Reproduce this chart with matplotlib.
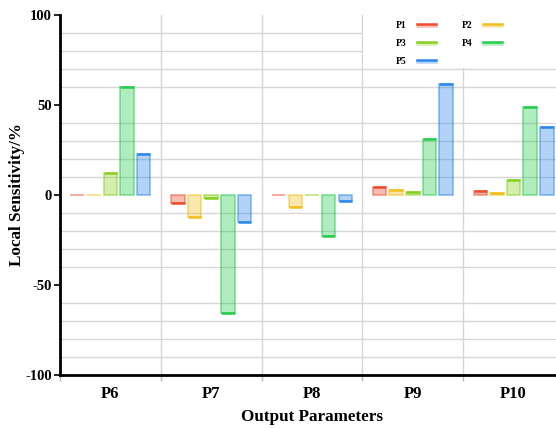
import matplotlib
matplotlib.use("Agg")
import matplotlib.pyplot as plt
from matplotlib.patches import Rectangle
from matplotlib.lines import Line2D
from matplotlib.colors import to_rgba
import numpy as np

categories = ["P6", "P7", "P8", "P9", "P10"]
series_names = ["P1", "P2", "P3", "P4", "P5"]
P1 = [0.0, -4.5, -0.2, 4.2, 2.0]
P2 = [0.0, -12.0, -6.5, 2.8, 1.2]
P3 = [12.5, -1.8, -0.2, 1.5, 8.5]
P4 = [60.0, -65.5, -23.0, 31.0, 48.7]
P5 = [23.0, -15.0, -3.5, 61.5, 37.7]
series = [P1, P2, P3, P4, P5]
colors = ["#ee4a2c", "#f2bd1d", "#86d01c", "#26cc4c", "#2b87e6"]
yticks = [-100, -50, 0, 50, 100]

W, H = 556, 428
fig = plt.figure(figsize=(W / 100, H / 100), dpi=100)
ax = fig.add_axes([60 / W, 1 - 375 / H, (564 - 60) / W, 360 / H])

serif = "Liberation Serif"
n = len(categories)
x = np.arange(n) + 0.5
step = 0.165
bw = 0.134
for i, (vals, c) in enumerate(zip(series, colors)):
    xs = x + (i - 2) * step
    ax.bar(xs, vals, width=bw, facecolor=to_rgba(c, 0.36), edgecolor=to_rgba(c, 0.55),
           linewidth=1.2, zorder=3)
    for xi, v in zip(xs, vals):
        if abs(v) > 0.5:
            ax.plot([xi - bw / 2, xi + bw / 2], [v, v], color=c, lw=1.8, zorder=4,
                    solid_capstyle="butt")

ax.set_xlim(0, n)
ax.set_ylim(-100, 100)
ax.set_yticks(yticks)
ax.set_yticks(np.arange(-100, 101, 10), minor=True)
ax.set_xticks(np.arange(0, n + 1), minor=True)
ax.set_xticks(x)
ax.set_xticklabels(categories, fontfamily=serif, fontweight="bold", fontsize=12)
ax.set_yticklabels([str(t) for t in yticks], fontfamily=serif, fontweight="bold", fontsize=10.5)
ax.tick_params(axis="x", which="major", length=0, pad=8)
ax.tick_params(axis="x", which="minor", length=4, width=1, color="#bbbbbb", direction="out")
ax.tick_params(axis="y", which="major", length=4, width=1.2, pad=2)
ax.tick_params(axis="y", which="minor", length=0)
ax.grid(True, axis="y", which="minor", color="#d6d6d6", lw=1.0, zorder=0)
ax.grid(True, axis="x", which="minor", color="#d6d6d6", lw=1.0, zorder=0)
for s in ["top", "right"]:
    ax.spines[s].set_visible(False)
for s in ["left", "bottom"]:
    ax.spines[s].set_linewidth(2)
    ax.spines[s].set_color("black")
    ax.spines[s].set_zorder(6)

ax.set_xlabel("Output Parameters", fontfamily=serif, fontweight="bold", fontsize=12.3, labelpad=5)
ax.set_ylabel("Local Sensitivity/%", fontfamily=serif, fontweight="bold", fontsize=12.3)
ax.yaxis.set_label_coords((25 - 60) / 504, 0.5)

# legend area
ax.add_patch(Rectangle((3.01, 70.6), 2.0, 29.0, facecolor="white", edgecolor="none", zorder=5))
pos = [(401, 25), (467, 25), (401, 43.5), (467, 43.5), (401, 61)]
for name, c, (px, py) in zip(series_names, colors, pos):
    fig.text(px / W, 1 - py / H, name, fontfamily=serif, fontweight="bold", fontsize=7,
             ha="center", va="center", zorder=7)
    hx0 = (px + 16) / W
    hx1 = (px + 35) / W
    fig.add_artist(Line2D([hx0, hx1], [1 - (py - 1.5) / H] * 2, color=c, lw=1.8, zorder=7))
    fig.add_artist(Line2D([hx0, hx1], [1 - (py + 0.7) / H] * 2, color=c, lw=1.8, alpha=0.35, zorder=7))

fig.savefig("out.png", dpi=100)
